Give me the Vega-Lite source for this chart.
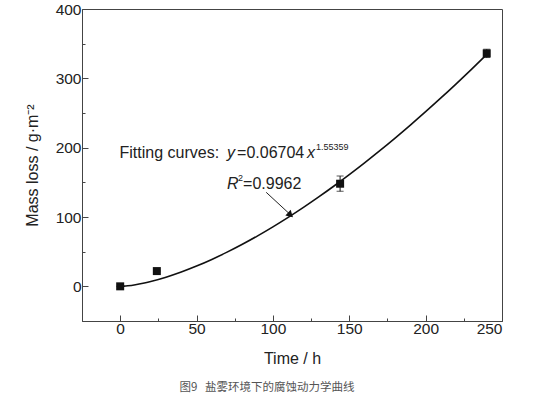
{
  "$schema": "https://vega.github.io/schema/vega-lite/v6.json",
  "width": 420,
  "height": 312,
  "autosize": "none",
  "padding": {"left": 82, "top": 9, "right": 31, "bottom": 76},
  "background": "white",
  "title": {
    "text": "图9\u00a0\u00a0\u00a0盐雾环境下的腐蚀动力学曲线",
    "orient": "bottom",
    "anchor": "middle",
    "dx": -25,
    "offset": 15,
    "font": "Noto Sans CJK SC",
    "fontSize": 11.5,
    "fontWeight": "normal",
    "color": "#555"
  },
  "resolve": {"axis": {"x": "independent", "y": "independent"}},
  "config": {
    "view": {"stroke": "#444", "strokeWidth": 1},
    "axis": {
      "domainColor": "#444",
      "tickColor": "#444",
      "labelColor": "#222",
      "titleColor": "#222",
      "labelFont": "Liberation Sans",
      "titleFont": "Liberation Sans",
      "labelFontSize": 15.5,
      "titleFontSize": 16,
      "titleFontWeight": "normal",
      "grid": false
    }
  },
  "datasets": {
    "pts": [
      {"time": 0, "loss": 0, "lo": 0, "hi": 0},
      {"time": 24, "loss": 22, "lo": 21, "hi": 23},
      {"time": 144, "loss": 148, "lo": 137, "hi": 159},
      {"time": 240, "loss": 336, "lo": 330, "hi": 342}
    ],
    "fit": [
      {"time": 0, "loss": 0},
      {"time": 2.5, "loss": 0.28},
      {"time": 5, "loss": 0.82},
      {"time": 10, "loss": 2.40},
      {"time": 15, "loss": 4.50},
      {"time": 20, "loss": 7.04},
      {"time": 30, "loss": 13.22},
      {"time": 40, "loss": 20.67},
      {"time": 50, "loss": 29.23},
      {"time": 60, "loss": 38.81},
      {"time": 70, "loss": 49.30},
      {"time": 80, "loss": 60.66},
      {"time": 90, "loss": 72.84},
      {"time": 100, "loss": 85.81},
      {"time": 110, "loss": 99.50},
      {"time": 120, "loss": 113.9},
      {"time": 130, "loss": 129.0},
      {"time": 140, "loss": 144.7},
      {"time": 150, "loss": 161.1},
      {"time": 160, "loss": 178.1},
      {"time": 170, "loss": 195.7},
      {"time": 180, "loss": 213.9},
      {"time": 190, "loss": 232.6},
      {"time": 200, "loss": 251.9},
      {"time": 210, "loss": 271.7},
      {"time": 220, "loss": 292.1},
      {"time": 230, "loss": 313.0},
      {"time": 240, "loss": 334.4}
    ],
    "arrow": [
      {"time": 95.6, "loss": 135.6, "k": 0},
      {"time": 112.6, "loss": 101, "k": 1}
    ]
  },
  "layer": [
    {
      "data": {"name": "fit"},
      "mark": {"type": "line", "color": "#111", "strokeWidth": 1.6, "interpolate": "monotone"},
      "encoding": {
        "x": {
          "field": "time", "type": "quantitative",
          "scale": {"domain": [-25, 250], "nice": false, "zero": false},
          "axis": {
            "title": "Time / h",
            "orient": "bottom",
            "values": [0, 50, 100, 150, 200, 250],
            "tickSize": -6,
            "labelPadding": 6,
            "titlePadding": 14
          }
        },
        "y": {
          "field": "loss", "type": "quantitative",
          "scale": {"domain": [-50, 400], "nice": false, "zero": false},
          "axis": {
            "title": "Mass loss / g·m⁻²",
            "orient": "left",
            "values": [0, 100, 200, 300, 400],
            "tickSize": -6,
            "labelPadding": 7,
            "titlePadding": 15
          }
        }
      }
    },
    {
      "data": {"name": "pts"},
      "mark": {"type": "rule", "color": "#111", "strokeWidth": 1},
      "encoding": {
        "x": {
          "field": "time", "type": "quantitative",
          "axis": {"orient": "bottom", "values": [25, 75, 125, 175, 225], "tickSize": -3, "labels": false, "domain": false, "title": null}
        },
        "y": {
          "field": "lo", "type": "quantitative",
          "axis": {"orient": "left", "values": [50, 150, 250, 350], "tickSize": -3, "labels": false, "domain": false, "title": null}
        },
        "y2": {"field": "hi"}
      }
    },
    {
      "data": {"name": "pts"},
      "mark": {"type": "tick", "orient": "horizontal", "color": "#111", "size": 7, "thickness": 1},
      "encoding": {
        "x": {"field": "time", "type": "quantitative", "axis": null},
        "y": {"field": "lo", "type": "quantitative", "axis": null}
      }
    },
    {
      "data": {"name": "pts"},
      "mark": {"type": "tick", "orient": "horizontal", "color": "#111", "size": 7, "thickness": 1},
      "encoding": {
        "x": {"field": "time", "type": "quantitative", "axis": null},
        "y": {"field": "hi", "type": "quantitative", "axis": null}
      }
    },
    {
      "data": {"name": "pts"},
      "mark": {"type": "square", "color": "#111", "filled": true, "size": 64, "opacity": 1},
      "encoding": {
        "x": {"field": "time", "type": "quantitative", "axis": null},
        "y": {"field": "loss", "type": "quantitative", "axis": null}
      }
    },
    {
      "data": {"name": "arrow"},
      "mark": {"type": "line", "color": "#222", "strokeWidth": 1},
      "encoding": {
        "x": {"field": "time", "type": "quantitative", "axis": null},
        "y": {"field": "loss", "type": "quantitative", "axis": null},
        "order": {"field": "k"}
      }
    },
    {
      "data": {"values": [{"time": 111.5, "loss": 103}]},
      "mark": {"type": "point", "shape": "triangle-right", "angle": 43, "filled": true, "color": "#111", "size": 60, "opacity": 1},
      "encoding": {
        "x": {"field": "time", "type": "quantitative", "axis": null},
        "y": {"field": "loss", "type": "quantitative", "axis": null}
      }
    },
    {
      "data": {"values": [{"time": 70, "loss": 184.9, "t": "Fitting curves:"}]},
      "mark": {"type": "text", "align": "right", "baseline": "alphabetic", "dx": -8, "font": "Liberation Sans", "fontSize": 16, "color": "#222"},
      "encoding": {
        "x": {"field": "time", "type": "quantitative", "axis": null},
        "y": {"field": "loss", "type": "quantitative", "axis": null},
        "text": {"field": "t"}
      }
    },
    {
      "data": {"values": [{"time": 70, "loss": 184.9, "t": "y"}]},
      "mark": {"type": "text", "align": "left", "baseline": "alphabetic", "dx": 0, "font": "Liberation Sans", "fontStyle": "italic", "fontSize": 16, "color": "#222"},
      "encoding": {
        "x": {"field": "time", "type": "quantitative", "axis": null},
        "y": {"field": "loss", "type": "quantitative", "axis": null},
        "text": {"field": "t"}
      }
    },
    {
      "data": {"values": [{"time": 70, "loss": 184.9, "t": "=0.06704"}]},
      "mark": {"type": "text", "align": "left", "baseline": "alphabetic", "dx": 10, "font": "Liberation Sans", "fontSize": 16, "color": "#222"},
      "encoding": {
        "x": {"field": "time", "type": "quantitative", "axis": null},
        "y": {"field": "loss", "type": "quantitative", "axis": null},
        "text": {"field": "t"}
      }
    },
    {
      "data": {"values": [{"time": 70, "loss": 184.9, "t": "x"}]},
      "mark": {"type": "text", "align": "left", "baseline": "alphabetic", "dx": 80, "font": "Liberation Sans", "fontStyle": "italic", "fontSize": 16, "color": "#222"},
      "encoding": {
        "x": {"field": "time", "type": "quantitative", "axis": null},
        "y": {"field": "loss", "type": "quantitative", "axis": null},
        "text": {"field": "t"}
      }
    },
    {
      "data": {"values": [{"time": 70, "loss": 184.9, "t": "1.55359"}]},
      "mark": {"type": "text", "align": "left", "baseline": "alphabetic", "dx": 89, "dy": -8, "font": "Liberation Sans", "fontSize": 9, "color": "#222"},
      "encoding": {
        "x": {"field": "time", "type": "quantitative", "axis": null},
        "y": {"field": "loss", "type": "quantitative", "axis": null},
        "text": {"field": "t"}
      }
    },
    {
      "data": {"values": [{"time": 70, "loss": 140.5, "t": "R"}]},
      "mark": {"type": "text", "align": "left", "baseline": "alphabetic", "dx": 0, "font": "Liberation Sans", "fontStyle": "italic", "fontSize": 16, "color": "#222"},
      "encoding": {
        "x": {"field": "time", "type": "quantitative", "axis": null},
        "y": {"field": "loss", "type": "quantitative", "axis": null},
        "text": {"field": "t"}
      }
    },
    {
      "data": {"values": [{"time": 70, "loss": 140.5, "t": "2"}]},
      "mark": {"type": "text", "align": "left", "baseline": "alphabetic", "dx": 11, "dy": -8, "font": "Liberation Sans", "fontSize": 9, "color": "#222"},
      "encoding": {
        "x": {"field": "time", "type": "quantitative", "axis": null},
        "y": {"field": "loss", "type": "quantitative", "axis": null},
        "text": {"field": "t"}
      }
    },
    {
      "data": {"values": [{"time": 70, "loss": 140.5, "t": "=0.9962"}]},
      "mark": {"type": "text", "align": "left", "baseline": "alphabetic", "dx": 16, "font": "Liberation Sans", "fontSize": 16, "color": "#222"},
      "encoding": {
        "x": {"field": "time", "type": "quantitative", "axis": null},
        "y": {"field": "loss", "type": "quantitative", "axis": null},
        "text": {"field": "t"}
      }
    }
  ]
}
